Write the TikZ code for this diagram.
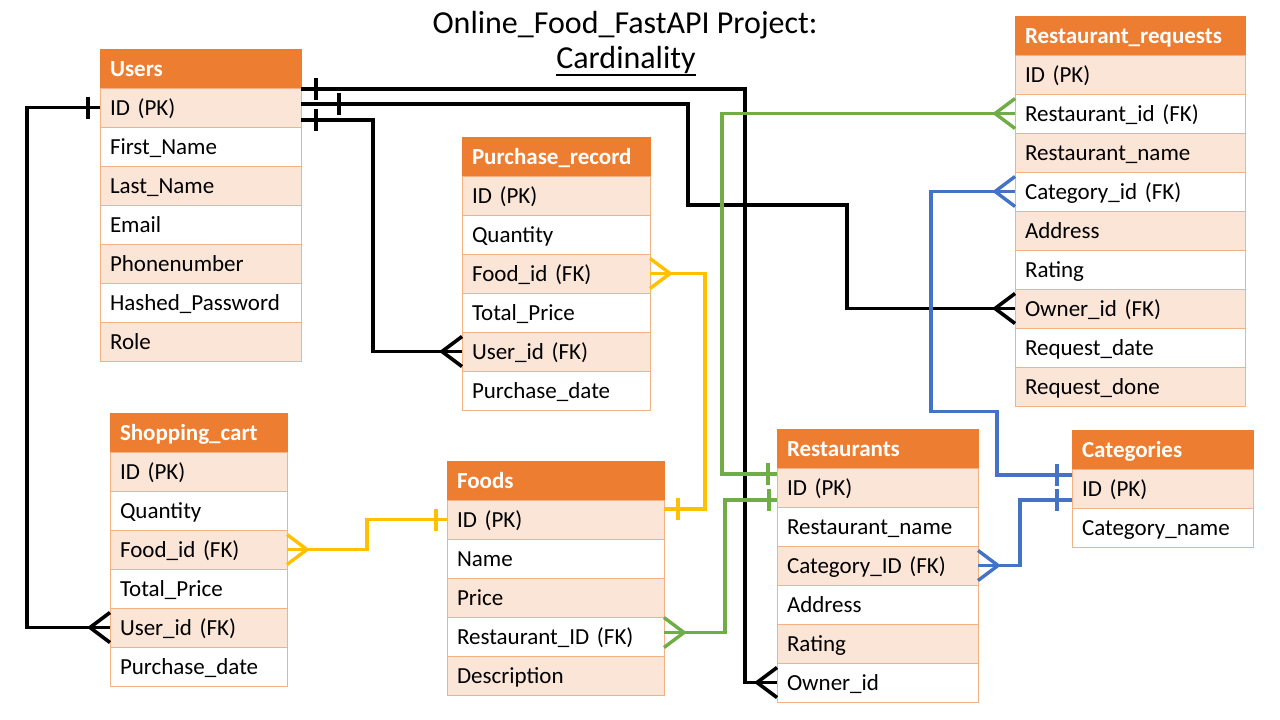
\documentclass[tikz,border=0pt]{standalone}
\usepackage{fontspec}
\setmainfont{Carlito}
\usetikzlibrary{positioning, decorations.markings}
\definecolor{clrHead}{HTML}{ED7D31}
\definecolor{clrRow}{HTML}{FBE5D6}
\definecolor{clrLine}{HTML}{F4B183}
\definecolor{clrFood}{HTML}{FFC000}
\definecolor{clrRest}{HTML}{70AD47}
\definecolor{clrCat}{HTML}{4472C4}

\begin{document}
\begin{tikzpicture}[
    x=1pt, y=1pt,
    hdr/.style={rectangle, draw=clrHead, fill=clrHead, text=white, font=\fontsize{23}{27}\selectfont\bfseries, text width=#1, align=left, minimum height=39pt, inner xsep=10pt, inner ysep=0pt, text height=16pt, text depth=0pt, outer sep=0pt, anchor=north west},
    fld/.style={rectangle, draw=clrLine, line width=1pt, fill=white, font=\fontsize{23}{27}\selectfont, text width=#1, align=left, minimum height=39pt, inner xsep=10pt, inner ysep=0pt, text height=16pt, text depth=0pt, outer sep=0pt},
    fldalt/.style={fld=#1, fill=clrRow},
    link/.style={line width=3.6pt},
    clink/.style={line width=3.4pt, #1},
    onestart/.style={postaction={decorate, decoration={markings, mark=at position #1 with {\draw (0,-11) -- (0,11);}}}},
    oneend/.style={postaction={decorate, decoration={markings, mark=at position -#1 with {\draw (0,-11) -- (0,11);}}}},
    crowstart/.style={postaction={decorate, decoration={markings, mark=at position 20pt with {\draw (-20,15) -- (0,0) -- (-20,-15);}}}},
    crowend/.style={postaction={decorate, decoration={markings, mark=at position -20pt with {\draw (20,15) -- (0,0) -- (20,-15);}}}},
]
\useasboundingbox (0,0) rectangle (1280,-720);

% Title
\node[font=\fontsize{32}{38}\selectfont, anchor=base] (title) at (625,-33) {Online\_Food\_FastAPI Project:};
\node[font=\fontsize{32}{38}\selectfont, anchor=base, inner sep=0pt] (sub) at (626,-68) {Cardinality};
\draw[line width=1.5pt] ([yshift=-7pt]sub.base west) -- ([yshift=-7pt]sub.base east);

% Users
\node[hdr=181pt] (usr) at (100,-49) {Users};
\node[fldalt=181pt, below=0pt of usr] (usr-id) {ID (PK)};
\node[fld=181pt, below=0pt of usr-id] (usr-first) {First\_Name};
\node[fldalt=181pt, below=0pt of usr-first] (usr-last) {Last\_Name};
\node[fld=181pt, below=0pt of usr-last] (usr-mail) {Email};
\node[fldalt=181pt, below=0pt of usr-mail] (usr-phone) {Phonenumber};
\node[fld=181pt, below=0pt of usr-phone] (usr-pass) {Hashed\_Password};
\node[fldalt=181pt, below=0pt of usr-pass] (usr-role) {Role};

% Purchase_record
\node[hdr=168pt] (pr) at (462,-137) {Purchase\_record};
\node[fldalt=168pt, below=0pt of pr] (pr-id) {ID (PK)};
\node[fld=168pt, below=0pt of pr-id] (pr-qty) {Quantity};
\node[fldalt=168pt, below=0pt of pr-qty] (pr-food) {Food\_id (FK)};
\node[fld=168pt, below=0pt of pr-food] (pr-total) {Total\_Price};
\node[fldalt=168pt, below=0pt of pr-total] (pr-user) {User\_id (FK)};
\node[fld=168pt, below=0pt of pr-user] (pr-date) {Purchase\_date};

% Restaurant_requests
\node[hdr=210pt] (rr) at (1015,-16) {Restaurant\_requests};
\node[fldalt=210pt, below=0pt of rr] (rr-id) {ID (PK)};
\node[fld=210pt, below=0pt of rr-id] (rr-rest) {Restaurant\_id (FK)};
\node[fldalt=210pt, below=0pt of rr-rest] (rr-name) {Restaurant\_name};
\node[fld=210pt, below=0pt of rr-name] (rr-cat) {Category\_id (FK)};
\node[fldalt=210pt, below=0pt of rr-cat] (rr-addr) {Address};
\node[fld=210pt, below=0pt of rr-addr] (rr-rating) {Rating};
\node[fldalt=210pt, below=0pt of rr-rating] (rr-owner) {Owner\_id (FK)};
\node[fld=210pt, below=0pt of rr-owner] (rr-date) {Request\_date};
\node[fldalt=210pt, below=0pt of rr-date] (rr-done) {Request\_done};

% Shopping_cart
\node[hdr=157pt] (sc) at (110,-413) {Shopping\_cart};
\node[fldalt=157pt, below=0pt of sc] (sc-id) {ID (PK)};
\node[fld=157pt, below=0pt of sc-id] (sc-qty) {Quantity};
\node[fldalt=157pt, below=0pt of sc-qty] (sc-food) {Food\_id (FK)};
\node[fld=157pt, below=0pt of sc-food] (sc-total) {Total\_Price};
\node[fldalt=157pt, below=0pt of sc-total] (sc-user) {User\_id (FK)};
\node[fld=157pt, below=0pt of sc-user] (sc-date) {Purchase\_date};

% Foods
\node[hdr=197pt] (fd) at (447,-461) {Foods};
\node[fldalt=197pt, below=0pt of fd] (fd-id) {ID (PK)};
\node[fld=197pt, below=0pt of fd-id] (fd-name) {Name};
\node[fldalt=197pt, below=0pt of fd-name] (fd-price) {Price};
\node[fld=197pt, below=0pt of fd-price] (fd-rest) {Restaurant\_ID (FK)};
\node[fldalt=197pt, below=0pt of fd-rest] (fd-desc) {Description};

% Restaurants
\node[hdr=181pt] (rst) at (777,-429) {Restaurants};
\node[fldalt=181pt, below=0pt of rst] (rst-id) {ID (PK)};
\node[fld=181pt, below=0pt of rst-id] (rst-name) {Restaurant\_name};
\node[fldalt=181pt, below=0pt of rst-name] (rst-cat) {Category\_ID (FK)};
\node[fld=181pt, below=0pt of rst-cat] (rst-addr) {Address};
\node[fldalt=181pt, below=0pt of rst-addr] (rst-rating) {Rating};
\node[fld=181pt, below=0pt of rst-rating] (rst-owner) {Owner\_id};

% Categories
\node[hdr=161pt] (cat) at (1072,-430) {Categories};
\node[fldalt=161pt, below=0pt of cat] (cat-id) {ID (PK)};
\node[fld=161pt, below=0pt of cat-id] (cat-name) {Category\_name};

% Users relations
\draw[link, onestart=12pt, crowend] (usr-id.west) -- ++(-73,0) |- (sc-user.west);
\draw[link, onestart=15pt, crowend] ([yshift=18.5pt]usr-id.east) -- ++(444,0) |- (rst-owner.west);
\draw[link, onestart=38pt, crowend] ([yshift=3.5pt]usr-id.east) -- ++(387,0) -- ++(0,-101) -- ++(159,0) |- (rr-owner.west);
\draw[link, onestart=15pt, crowend] ([yshift=-12.5pt]usr-id.east) -- ++(72,0) |- (pr-user.west);

% Foods relations
\draw[clink=clrFood, crowstart, oneend=14pt] (pr-food.east) -- ++(55,0) |- ([yshift=10.5pt]fd-id.east);
\draw[clink=clrFood, crowstart, oneend=11pt] (sc-food.east) -- ++(80,0) |- (fd-id.west);

% Restaurants relations
\draw[clink=clrRest, crowstart, oneend=9pt] (rr-rest.west) -- ++(-293,0) |- ([yshift=13.5pt]rst-id.west);
\draw[clink=clrRest, crowstart, oneend=8pt] ([yshift=4pt]fd-rest.east) -- ++(61,0) |- ([yshift=-12.5pt]rst-id.west);

% Categories relations
\draw[clink=clrCat, crowstart, oneend=15pt] (rr-cat.west) -- ++(-84,0) -- ++(0,-220) -- ++(66,0) |- ([yshift=13.5pt]cat-id.west);
\draw[clink=clrCat, crowstart, oneend=15pt] (rst-cat.east) -- ++(42,0) |- ([yshift=-11.5pt]cat-id.west);

\end{tikzpicture}
\end{document}
